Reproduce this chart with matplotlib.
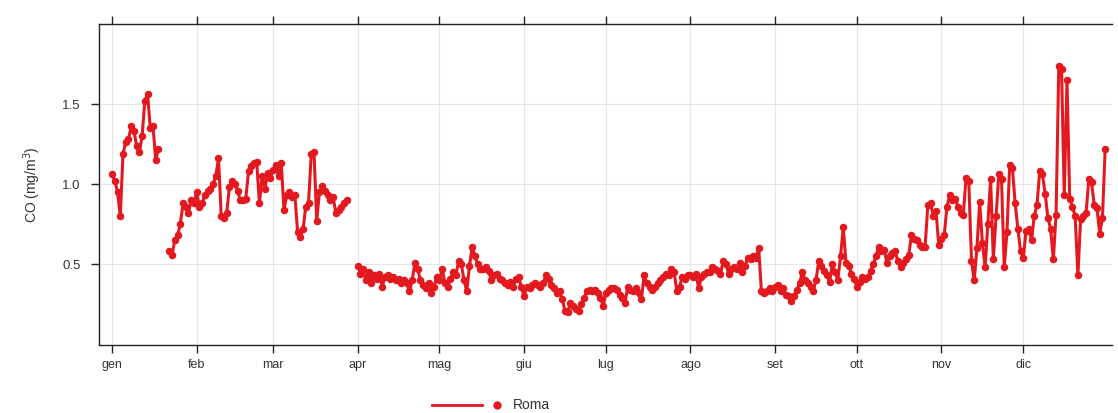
import numpy as np
import pandas as pd
import matplotlib
matplotlib.use("Agg")
import matplotlib.pyplot as plt
from matplotlib.lines import Line2D

nan = np.nan
# Daily CO (mg/m3), Roma, one list per month
gen = [1.06, 1.02, 0.95, 0.80, 1.19, 1.26, 1.28, 1.36, 1.33, 1.24, 1.20, 1.30, 1.52, 1.56, 1.35, 1.36, 1.15, 1.22,
       nan, nan, nan, 0.58, 0.56, 0.65, 0.68, 0.75, 0.88, 0.86, 0.82, 0.90, 0.88]
feb = [0.95, 0.86, 0.88, 0.93, 0.96, 0.97, 1.00, 1.05, 1.16, 0.80, 0.79, 0.82, 0.98, 1.02, 1.00, 0.96, 0.90, 0.90,
       0.91, 1.08, 1.11, 1.13, 1.14, 0.88, 1.05, 0.97, 1.07, 1.04]
mar = [1.09, 1.12, 1.05, 1.13, 0.84, 0.93, 0.95, 0.92, 0.93, 0.70, 0.67, 0.72, 0.86, 0.88, 1.19, 1.20, 0.77, 0.95,
       0.99, 0.96, 0.93, 0.90, 0.92, 0.82, 0.84, 0.86, 0.88, 0.90, nan, nan, nan]
apr = [0.49, 0.44, 0.47, 0.40, 0.45, 0.38, 0.43, 0.41, 0.44, 0.36, 0.42, 0.43, 0.41, 0.42, 0.40, 0.41, 0.38, 0.40,
       0.38, 0.33, 0.40, 0.51, 0.47, 0.40, 0.37, 0.35, 0.38, 0.32, 0.36, 0.42]
mag = [0.40, 0.47, 0.38, 0.36, 0.41, 0.45, 0.43, 0.52, 0.50, 0.40, 0.33, 0.49, 0.61, 0.55, 0.50, 0.47, 0.47, 0.48,
       0.46, 0.40, 0.43, 0.44, 0.41, 0.40, 0.38, 0.37, 0.39, 0.36, 0.41, 0.42, 0.36]
giu = [0.30, 0.36, 0.35, 0.37, 0.38, 0.37, 0.36, 0.38, 0.43, 0.41, 0.37, 0.35, 0.32, 0.33, 0.28, 0.21, 0.20, 0.26,
       0.24, 0.22, 0.21, 0.25, 0.29, 0.33, 0.34, 0.33, 0.34, 0.32, 0.29, 0.24]
lug = [0.32, 0.34, 0.35, 0.35, 0.34, 0.31, 0.29, 0.26, 0.36, 0.34, 0.33, 0.35, 0.32, 0.28, 0.43, 0.38, 0.36, 0.34,
       0.36, 0.38, 0.40, 0.42, 0.44, 0.43, 0.47, 0.45, 0.33, 0.36, 0.42, 0.41, 0.43]
ago = [0.43, 0.42, 0.44, 0.35, 0.42, 0.44, 0.45, 0.45, 0.48, 0.47, 0.46, 0.44, 0.52, 0.50, 0.44, 0.47, 0.48, 0.47,
       0.51, 0.45, 0.49, 0.54, 0.53, 0.55, 0.54, 0.60, 0.33, 0.32, 0.33, 0.35, 0.33]
set_ = [0.36, 0.37, 0.33, 0.35, 0.31, 0.30, 0.27, 0.30, 0.34, 0.38, 0.45, 0.40, 0.38, 0.36, 0.33, 0.40, 0.52, 0.49,
        0.46, 0.43, 0.39, 0.50, 0.45, 0.40, 0.55, 0.73, 0.51, 0.49, 0.44, 0.41]
ott = [0.36, 0.39, 0.42, 0.41, 0.42, 0.46, 0.50, 0.55, 0.61, 0.58, 0.59, 0.51, 0.55, 0.57, 0.58, 0.52, 0.48, 0.51,
       0.53, 0.56, 0.68, 0.66, 0.65, 0.62, 0.61, 0.61, 0.87, 0.88, 0.80, 0.83, 0.62]
nov = [0.66, 0.68, 0.86, 0.93, 0.90, 0.91, 0.86, 0.82, 0.81, 1.04, 1.02, 0.52, 0.40, 0.60, 0.89, 0.63, 0.48, 0.75,
       1.03, 0.53, 0.80, 1.06, 1.03, 0.48, 0.70, 1.12, 1.10, 0.88, 0.72, 0.58]
dic = [0.54, 0.71, 0.72, 0.65, 0.80, 0.87, 1.08, 1.06, 0.94, 0.79, 0.72, 0.53, 0.81, 1.74, 1.72, 0.93, 1.65, 0.91,
       0.86, 0.80, 0.43, 0.78, 0.80, 0.82, 1.03, 1.01, 0.87, 0.85, 0.69, 0.79, 1.22]

month_labels = ["gen", "feb", "mar", "apr", "mag", "giu", "lug", "ago", "set", "ott", "nov", "dic"]
series_name = "Roma"
y_ticks = [0.5, 1.0, 1.5]

values = np.array(gen + feb + mar + apr + mag + giu + lug + ago + set_ + ott + nov + dic, dtype=float)
dates = pd.date_range("2019-01-01", periods=len(values), freq="D")
month_starts = pd.date_range("2019-01-01", periods=12, freq="MS")

plt.rcParams["font.family"] = ["Liberation Sans", "DejaVu Sans"]

W, H = 1118, 413
fig = plt.figure(figsize=(W / 100, H / 100), dpi=100)
ax = fig.add_axes([99 / W, 1 - 345 / H, (1112 - 99) / W, (345 - 24) / H])

red = "#e3191f"
ax.plot(dates, values, color=red, lw=2.2, marker="o", ms=4.4, mfc=red, mec=red, zorder=3)

ax.set_xlim(pd.Timestamp("2019-01-01") - pd.Timedelta(days=4.8),
            pd.Timestamp("2019-01-01") + pd.Timedelta(days=366.5))
ax.set_ylim(-0.005, 2.0)
ax.set_xticks(month_starts)
ax.set_xticklabels(month_labels)
ax.set_yticks(y_ticks)
ax.set_yticklabels([f"{v:.1f}" for v in y_ticks])
ax.grid(True, color="#e6e6e6", lw=0.8, zorder=0)
ax.set_axisbelow(True)

ax.spines["right"].set_visible(False)
for s in ["left", "top", "bottom"]:
    ax.spines[s].set_linewidth(1.0)
    ax.spines[s].set_color("#222222")
ax.tick_params(axis="x", which="both", direction="out", length=6, width=1.0, color="#222222",
               top=True, labeltop=False, labelsize=9, labelcolor="#333333", pad=4)
ax.tick_params(axis="y", direction="out", length=6, width=1.0, color="#222222",
               labelsize=9.5, labelcolor="#333333", pad=7)
ax.set_ylabel("CO (mg/m$^3$)", fontsize=10, color="#333333", labelpad=14)

# legend below the plot
y_leg = 1 - 405 / H
fig.add_artist(Line2D([432 / W, 482 / W], [y_leg, y_leg], color=red, lw=2.0, transform=fig.transFigure))
fig.add_artist(Line2D([497 / W], [y_leg], color=red, marker="o", ms=5, lw=0, transform=fig.transFigure))
fig.text(513 / W, y_leg, series_name, fontsize=10, color="#333333", va="center", ha="left")

fig.savefig("out.png", dpi=100)
